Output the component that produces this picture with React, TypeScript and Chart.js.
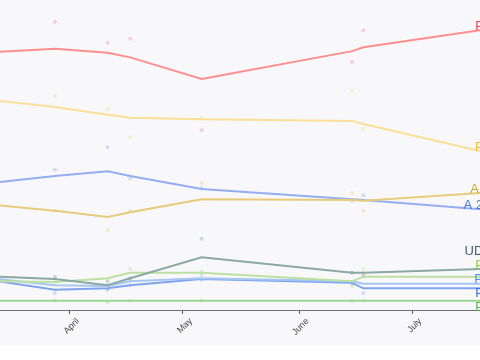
import React, { useEffect, useRef } from 'react';
import { Chart, registerables } from 'chart.js';
Chart.register(...registerables);

// x values are day-of-year numbers
const monthTicks = [91, 121, 152, 182];
const monthLabels = ['April', 'May', 'June', 'July'];
const trendDays = [72, 87, 101, 107, 126, 166, 169, 200];
const pollDays = [87, 101, 107, 126, 166, 169];

const partyNames = ['PS', 'PD', 'AUR', 'A 2020', 'UDMR', 'PV', 'PM', 'PP', 'PE'];

const trendRed = [33.3, 33.7, 33.2, 32.6, 29.8, 33.4, 33.9, 36.1];
const trendYellow = [27.0, 26.2, 25.2, 24.8, 24.6, 24.4, 24.0, 20.5];
const trendGold = [13.5, 12.8, 12.0, 12.6, 14.3, 14.2, 14.1, 15.1];
const trendBlue = [16.5, 17.3, 17.9, 17.3, 15.6, 14.3, 14.2, 13.0];
const trendSlate = [4.3, 4.0, 3.2, 4.1, 6.8, 4.8, 4.8, 5.3];
const trendLime = [3.7, 3.6, 4.1, 4.8, 4.8, 3.7, 4.3, 4.3];
const trendSky = [4.0, 3.2, 3.1, 3.7, 4.1, 3.7, 3.4, 3.4];
const trendAzure = [3.7, 2.6, 2.8, 3.2, 4.0, 3.5, 2.8, 2.8];
const trendGreen = [1.2, 1.2, 1.2, 1.2, 1.2, 1.2, 1.2, 1.2];

const pollRed = [37.2, 34.5, 35.0, 23.2, 32.0, 36.1];
const pollYellow = [27.6, 25.9, 22.3, 24.8, 28.3, 23.4];
const pollGold = [12.8, 10.3, 12.8, 16.4, 15.1, 12.8];
const pollBlue = [18.1, 21.0, 17.0, 15.7, 14.1, 14.8];
const pollSlate = [4.3, 3.6, 4.0, 9.2, 4.8, 4.5];
const pollLime = [3.4, 3.9, 5.3, 5.0, 3.1, 5.3];
const pollSky = [4.0, 2.6, 4.1, 4.5, 4.8, 4.3];
const pollAzure = [2.2, 2.7, 3.2, 3.9, 3.4, 2.2];
const pollGreen = [1.2, 1.0, 1.2, 1.2, 1.2, 1.2];

const trends = [trendRed, trendYellow, trendGold, trendBlue, trendSlate, trendLime, trendSky, trendAzure, trendGreen];
const polls = [pollRed, pollYellow, pollGold, pollBlue, pollSlate, pollLime, pollSky, pollAzure, pollGreen];

const lineColors = ['#ff8e8e', '#fadf98', '#e6cc7a', '#93aef0', '#8aa8a4', '#bde0a2', '#a6c6f2', '#7ea4f0', '#9ad690'];
const labelColors = ['#ef3e4a', '#f2c233', '#d6a823', '#4d74d9', '#3d6262', '#8ccc3c', '#4a90e2', '#3a6fe6', '#55b84f'];
const dotColors = ['rgba(239,62,74,0.22)', 'rgba(242,194,51,0.22)', 'rgba(214,168,35,0.22)', 'rgba(77,116,217,0.22)', 'rgba(61,98,98,0.22)', 'rgba(140,204,60,0.22)', 'rgba(74,144,226,0.22)', 'rgba(58,111,230,0.22)', 'rgba(85,184,79,0.22)'];

const endLabels = {
  id: 'endLabels',
  afterDatasetsDraw(chart: any) {
    const { ctx, chartArea, scales } = chart;
    const items = partyNames.map((name, i) => ({
      name,
      color: labelColors[i],
      y: scales.y.getPixelForValue(trends[i][trends[i].length - 1]) - 4,
    }));
    items.sort((a, b) => a.y - b.y);
    const gap = 14;
    for (let iter = 0; iter < 300; iter++) {
      let moved = false;
      for (let i = 1; i < items.length; i++) {
        const d = items[i].y - items[i - 1].y;
        if (d < gap - 0.01) {
          const s = (gap - d) / 2;
          items[i - 1].y -= s;
          items[i].y += s;
          moved = true;
        }
      }
      if (!moved) break;
    }
    ctx.save();
    ctx.font = "13px 'Helvetica Neue', Helvetica, Arial, sans-serif";
    ctx.textAlign = 'center';
    ctx.textBaseline = 'middle';
    items.forEach((it) => {
      ctx.fillStyle = it.color;
      ctx.fillText(it.name, chartArea.right + 4, it.y);
    });
    ctx.restore();
  },
};

export default function App() {
  const ref = useRef<HTMLCanvasElement | null>(null);
  useEffect(() => {
    document.body.style.margin = '0';
    if (!ref.current) return;
    const datasets: any[] = [];
    polls.forEach((p, i) => {
      datasets.push({
        type: 'scatter',
        data: pollDays.map((d, j) => ({ x: d, y: p[j] })),
        pointRadius: 2,
        pointHoverRadius: 2,
        pointBorderWidth: 0,
        backgroundColor: dotColors[i],
        borderColor: dotColors[i],
        order: 2,
      });
    });
    trends.forEach((t, i) => {
      datasets.push({
        type: 'line',
        data: trendDays.map((d, j) => ({ x: d, y: t[j] })),
        borderColor: lineColors[i],
        borderWidth: 2,
        pointRadius: 0,
        pointHoverRadius: 0,
        tension: 0,
        fill: false,
        order: 1,
      });
    });
    const chart = new Chart(ref.current, {
      type: 'line',
      data: { datasets },
      plugins: [endLabels],
      options: {
        responsive: false,
        animation: false,
        devicePixelRatio: 1,
        layout: { padding: 0, autoPadding: false },
        plugins: { legend: { display: false }, tooltip: { enabled: false } },
        scales: {
          x: {
            type: 'linear',
            min: 72.4,
            max: 200,
            afterBuildTicks: (scale: any) => {
              scale.ticks = monthTicks.map((v) => ({ value: v }));
            },
            afterFit: (scale: any) => {
              scale.height = 35;
            },
            ticks: {
              autoSkip: false,
              minRotation: 45,
              maxRotation: 45,
              labelOffset: 8,
              padding: 2,
              color: '#444',
              font: { size: 9 },
              callback: (v: any) => {
                const k = monthTicks.indexOf(Number(v));
                return k >= 0 ? monthLabels[k] : '';
              },
            },
            grid: { display: true, drawOnChartArea: false, drawTicks: true, tickLength: 4, color: '#555' },
            border: { display: true, color: '#707070', width: 1 },
          },
          y: { display: false, min: 0, max: 40 },
        },
      } as any,
    });
    return () => chart.destroy();
  }, []);
  return (
    <canvas ref={ref} width={480} height={345} style={{ display: 'block', background: '#f8f8fb' }} />
  );
}
